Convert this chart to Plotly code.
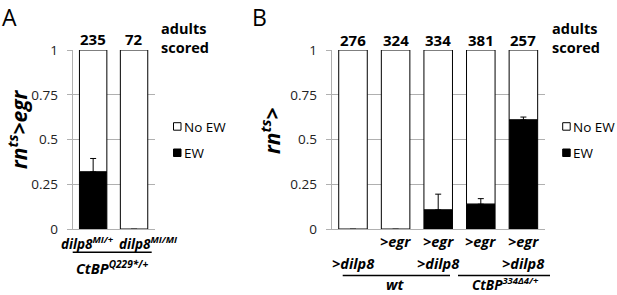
import plotly.graph_objects as go

W, H = 617, 295

# ---------------- data ----------------
cats_a = ["dilp8 MI/+", "dilp8 MI/MI"]
ew_a = [0.32, 0.0]
err_a = [0.075, None]
n_a = ["235", "72"]
lab_a = ["dilp8<sup>MI/+</sup>", "dilp8<sup>MI/MI</sup>"]

cats_b = ["dilp8 wt", "egr wt", "egr dilp8 wt", "egr CtBP", "egr dilp8 CtBP"]
ew_b = [0.0, 0.0, 0.108, 0.14, 0.61]
err_b = [None, None, 0.088, 0.031, 0.016]
n_b = ["276", "324", "334", "381", "257"]
row1_b = ["", ">egr", ">egr", ">egr", ">egr"]
row2_b = [">dilp8", "", ">dilp8", "", ">dilp8"]

yticks = [0, 0.25, 0.5, 0.75, 1]
yticklabels = ["0", "0.25", "0.5", "0.75", "1"]

FONT = "Open Sans"
GRID = "#b0b0b0"


def px(x):
    return x / W


def py(y):
    return 1 - y / H


fig = go.Figure()

noew_a = [1 - v for v in ew_a]
noew_b = [1 - v for v in ew_b]

for cats, ew, err, noew, xa, ya in [
    (cats_a, ew_a, err_a, noew_a, "x", "y"),
    (cats_b, ew_b, err_b, noew_b, "x2", "y2"),
]:
    fig.add_trace(go.Bar(x=cats, y=noew, base=ew, name="No EW", xaxis=xa, yaxis=ya,
                         marker=dict(color="white", line=dict(color="black", width=1)),
                         showlegend=False))
    fig.add_trace(go.Bar(x=cats, y=ew, name="EW", xaxis=xa, yaxis=ya,
                         marker=dict(color="black", line=dict(color="black", width=1)),
                         error_y=dict(type="data", array=err,
                                      arrayminus=[0] * len(ew), symmetric=False,
                                      color="black", thickness=1, width=3),
                         showlegend=False))

ydom = [py(229.3), py(50)]
yax = dict(range=[0, 1], domain=ydom, tickvals=yticks, ticktext=yticklabels,
           showgrid=True, gridcolor=GRID, gridwidth=1, showline=True, linecolor=GRID,
           linewidth=1, ticks="outside", ticklen=5, tickcolor=GRID, zeroline=False,
           automargin=False,
           tickfont=dict(family=FONT, size=13.5, color="#222"), ticklabelstandoff=6)
xax = dict(showticklabels=False, ticks="", showgrid=False, zeroline=False,
           showline=True, linecolor=GRID, linewidth=1, automargin=False)

fig.update_layout(
    width=W, height=H, margin=dict(l=0, r=0, t=0, b=0, pad=0, autoexpand=False),
    paper_bgcolor="white", plot_bgcolor="white", showlegend=False,
    barmode="overlay", bargap=0.33,
    xaxis=dict(xax, domain=[px(72.7), px(154.5)], range=[-0.5, 1.5]),
    yaxis=dict(yax, anchor="x"),
    xaxis2=dict(xax, domain=[px(331.7), px(544.7)], range=[-0.5, 4.5], anchor="y2"),
    yaxis2=dict(yax, anchor="x2"),
)

ann = []
shapes = []


def text(x, y, t, size=13, xref="paper", anchor="center", angle=0, xshift=0,
         align="center", yanchor="middle", pad=1):
    ann.append(dict(x=x, y=y, xref=xref, yref="paper", text=t, showarrow=False,
                    xanchor=anchor, yanchor=yanchor, textangle=angle, xshift=xshift,
                    align=align, borderpad=pad,
                    font=dict(family=FONT, size=size, color="black")))


# panel letters
text(px(1), 1, "A", size=23, anchor="left", yanchor="top", pad=0)
text(px(251), 1, "B", size=23, anchor="left", yanchor="top", pad=0)

# counts
for c, n in zip(cats_a, n_a):
    text(c, py(39), "<b>" + n + "</b>", size=15, xref="x")
for c, n in zip(cats_b, n_b):
    text(c, py(40), "<b>" + n + "</b>", size=15, xref="x2")

# adults scored
for x0 in (158.5, 549.5):
    text(px(x0), py(37.5), "<b>adults<br>scored</b>", size=14.5, anchor="left", align="left")

# y titles
text(px(17), py(129), "<b><i>rn<sup>ts</sup>>egr</i></b>", size=21, angle=-90)
text(px(270), py(131), "<b><i>rn<sup>ts</sup>></i></b>", size=21, angle=-90)

# x labels A
for c, l, sh in zip(cats_a, lab_a, [-6, 14]):
    text(c, py(243), "<b><i>" + l + "</i></b>", size=13.5, xref="x", xshift=sh)
text(px(112), py(267), "<b><i>CtBP<sup>Q229*/+</sup></i></b>", size=14.5)
shapes.append(dict(type="line", xref="paper", yref="paper", x0=px(72.7), x1=px(151.7),
                   y0=py(252.3), y1=py(252.3), line=dict(color="black", width=1.5)))

# x labels B
for c, r1, r2 in zip(cats_b, row1_b, row2_b):
    if r1:
        text(c, py(242), "<b><i>" + r1 + "</i></b>", size=14.5, xref="x2")
    if r2:
        text(c, py(263), "<b><i>" + r2 + "</i></b>", size=14.5, xref="x2")
shapes.append(dict(type="line", xref="paper", yref="paper", x0=px(342.7), x1=px(450),
                   y0=py(275.5), y1=py(275.5), line=dict(color="black", width=1.5)))
shapes.append(dict(type="line", xref="paper", yref="paper", x0=px(458), x1=px(550),
                   y0=py(275.5), y1=py(275.5), line=dict(color="black", width=1.5)))
text(px(395), 0, "<b><i>wt</i></b>", size=14.5, yanchor="bottom", pad=0)
text(px(505), 0, "<b><i>CtBP<sup>334Δ4/+</sup></i></b>", size=13.5, yanchor="bottom", pad=0)

# legends
for lx in (173.5, 562.7):
    shapes.append(dict(type="rect", xref="paper", yref="paper", x0=px(lx), x1=px(lx + 7.5),
                       y0=py(130.2), y1=py(122.7), fillcolor="white",
                       line=dict(color="black", width=1)))
    shapes.append(dict(type="rect", xref="paper", yref="paper", x0=px(lx), x1=px(lx + 7.5),
                       y0=py(156.5), y1=py(149), fillcolor="black",
                       line=dict(color="black", width=1)))
    text(px(lx + 8.5), py(126.5), "No EW", size=13.5, anchor="left")
    text(px(lx + 8.5), py(152.7), "EW", size=13.5, anchor="left")

fig.update_layout(annotations=ann, shapes=shapes)
fig.write_html("out.html", config={"displayModeBar": False},
               post_script="document.body.style.margin='0';document.body.style.padding='0';")
